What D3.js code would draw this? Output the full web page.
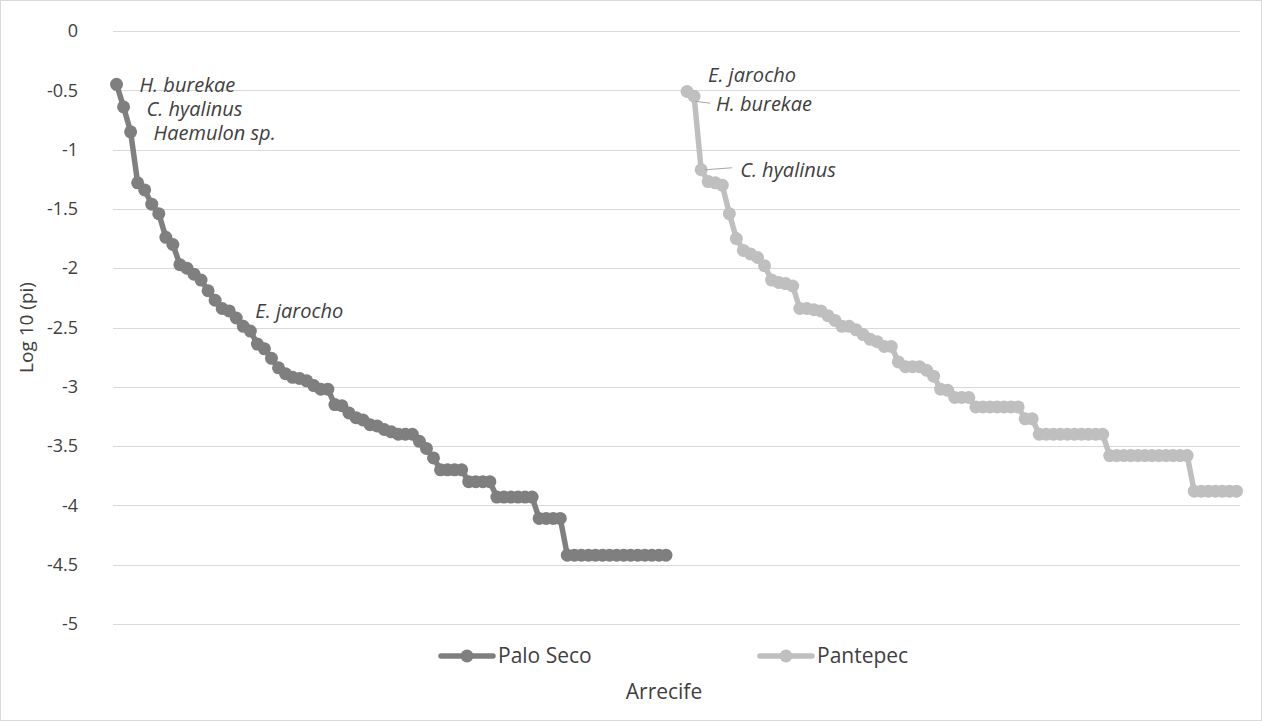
<!DOCTYPE html>
<html>
<head>
<meta charset="utf-8">
<script src="https://cdn.jsdelivr.net/npm/d3@7"></script>
<style>
  body { margin: 0; background: #fff; }
  text { font-family: "Open Sans", Lato, sans-serif; fill: #404040; }
</style>
</head>
<body>
<script>
// series values (log10 pi)
var paloSeco = [-0.45, -0.64, -0.85, -1.28, -1.34, -1.46, -1.54, -1.74, -1.80, -1.97,
  -2.00, -2.05, -2.10, -2.19, -2.27, -2.34, -2.36, -2.42, -2.49, -2.53,
  -2.64, -2.68, -2.76, -2.84, -2.89, -2.92, -2.93, -2.95, -2.99, -3.02,
  -3.02, -3.15, -3.16, -3.22, -3.26, -3.28, -3.32, -3.33, -3.36, -3.38,
  -3.40, -3.40, -3.40, -3.46, -3.52, -3.60, -3.70, -3.70, -3.70, -3.70,
  -3.80, -3.80, -3.80, -3.80, -3.93, -3.93, -3.93, -3.93, -3.93, -3.93,
  -4.11, -4.11, -4.11, -4.11, -4.42, -4.42, -4.42, -4.42, -4.42, -4.42,
  -4.42, -4.42, -4.42, -4.42, -4.42, -4.42, -4.42, -4.42, -4.42];

var pantepec = [-0.51, -0.55, -1.17, -1.27, -1.28, -1.30, -1.54, -1.75, -1.85, -1.88,
  -1.91, -1.98, -2.10, -2.12, -2.13, -2.15, -2.34, -2.34, -2.35, -2.36,
  -2.40, -2.44, -2.49, -2.49, -2.52, -2.56, -2.60, -2.62, -2.66, -2.66,
  -2.79, -2.83, -2.83, -2.83, -2.86, -2.91, -3.02, -3.03, -3.09, -3.09,
  -3.09, -3.17, -3.17, -3.17, -3.17, -3.17, -3.17, -3.17, -3.27, -3.27,
  -3.40, -3.40, -3.40, -3.40, -3.40, -3.40, -3.40, -3.40, -3.40, -3.40,
  -3.58, -3.58, -3.58, -3.58, -3.58, -3.58, -3.58, -3.58, -3.58, -3.58,
  -3.58, -3.58, -3.88, -3.88, -3.88, -3.88, -3.88, -3.88, -3.88];

var gap = 2; // empty categories between the two reefs
var yTicks = [0, -0.5, -1, -1.5, -2, -2.5, -3, -3.5, -4, -4.5, -5];
var seriesNames = ["Palo Seco", "Pantepec"];

// species labels: [point index, text]
var paloLabels = [[0, "H. burekae"], [1, "C. hyalinus"], [2, "Haemulon sp."], [19, "E. jarocho"]];
var pantepecLabels = [[0, "E. jarocho"], [1, "H. burekae"], [2, "C. hyalinus"]];

var width = 1262, height = 721;
var plotL = 113, plotR = 1240, plotT = 31, plotB = 624;
var colors = ["#7f7f7f", "#bfbfbf"];

var nCat = paloSeco.length + gap + pantepec.length;
var cats = d3.range(nCat);

// one long row per series, nulls where the other reef sits
var rows = [
  cats.map(function(i) { return i < paloSeco.length ? paloSeco[i] : null; }),
  cats.map(function(i) {
    var j = i - paloSeco.length - gap;
    return j >= 0 ? pantepec[j] : null;
  })
];

var svg = d3.select("body").append("svg")
    .attr("width", width)
    .attr("height", height);

svg.append("rect")
    .attr("x", 0.5).attr("y", 0.5)
    .attr("width", width - 1).attr("height", height - 1)
    .attr("fill", "#fff")
    .attr("stroke", "#d9d9d9");

var x = d3.scalePoint().domain(cats).range([plotL, plotR]).padding(0.5);
var y = d3.scaleLinear().domain([-5, 0]).range([plotB, plotT]);

// gridlines
svg.append("g").selectAll("line")
    .data(yTicks)
    .enter().append("line")
    .attr("x1", plotL).attr("x2", plotR)
    .attr("y1", function(d) { return Math.round(y(d)) + 0.5; })
    .attr("y2", function(d) { return Math.round(y(d)) + 0.5; })
    .attr("stroke", "#d9d9d9")
    .attr("stroke-width", 1);

// y axis labels
var yAxis = svg.append("g")
    .attr("transform", "translate(78,0)")
    .call(d3.axisLeft(y).tickValues(yTicks).tickSize(0).tickPadding(0)
      .tickFormat(function(d) { return d; }));
yAxis.select(".domain").remove();
yAxis.selectAll("text")
    .style("font-family", "'Open Sans', sans-serif")
    .style("font-size", "18px")
    .attr("fill", "#595959");

var line = d3.line()
    .defined(function(d) { return d != null; })
    .x(function(d, i) { return x(i); })
    .y(function(d) { return y(d); });

rows.forEach(function(row, k) {
  svg.append("path")
      .datum(row)
      .attr("fill", "none")
      .attr("stroke", colors[k])
      .attr("stroke-width", 5.5)
      .attr("stroke-linejoin", "round")
      .attr("stroke-linecap", "round")
      .attr("d", line);

  svg.append("g").selectAll("circle")
      .data(row.map(function(v, i) { return [i, v]; }).filter(function(d) { return d[1] != null; }))
      .enter().append("circle")
      .attr("cx", function(d) { return x(d[0]); })
      .attr("cy", function(d) { return y(d[1]); })
      .attr("r", 6.5)
      .attr("fill", colors[k]);
});

// species labels, offsets from their point
var offsets = {
  "Palo Seco": [[23, 1], [23, 2], [23, 1], [5, -20]],
  "Pantepec": [[21, -16], [22, 8], [39, 0]]
};
var leaders = { "Pantepec": [null, [[1, 5], [16, 7]], [[4, 0], [31, -2]]] };

function drawLabels(list, start, name) {
  list.forEach(function(lb, n) {
    var px = x(start + lb[0]);
    var py = y(name == "Palo Seco" ? paloSeco[lb[0]] : pantepec[lb[0]]);
    var off = offsets[name][n];
    var ld = leaders[name] && leaders[name][n];
    if (ld) {
      svg.append("line")
          .attr("x1", px + ld[0][0]).attr("y1", py + ld[0][1])
          .attr("x2", px + ld[1][0]).attr("y2", py + ld[1][1])
          .attr("stroke", "#a6a6a6").attr("stroke-width", 1);
    }
    svg.append("text")
        .attr("x", px + off[0])
        .attr("y", py + off[1])
        .attr("dy", "0.35em")
        .style("font-size", "20px")
        .style("font-style", "italic")
        .text(lb[1]);
  });
}
drawLabels(paloLabels, 0, "Palo Seco");
drawLabels(pantepecLabels, paloSeco.length + gap, "Pantepec");

// axis titles
svg.append("text")
    .attr("transform", "translate(33," + ((plotT + plotB) / 2) + ") rotate(-90)")
    .attr("text-anchor", "middle")
    .style("font-size", "19px")
    .text("Log 10 (pi)");

svg.append("text")
    .attr("x", 664)
    .attr("y", 692)
    .attr("dy", "0.35em")
    .attr("text-anchor", "middle")
    .style("font-size", "21px")
    .text("Arrecife");

// legend
var legendX = [441, 760];
seriesNames.forEach(function(name, k) {
  var g = svg.append("g").attr("transform", "translate(" + legendX[k] + ",656)");
  g.append("line")
      .attr("x1", 0).attr("x2", 52)
      .attr("stroke", colors[k]).attr("stroke-width", 5.5)
      .attr("stroke-linecap", "round");
  g.append("circle").attr("cx", 26).attr("r", 6.5).attr("fill", colors[k]);
  g.append("text")
      .attr("x", 57).attr("dy", "0.35em")
      .style("font-size", "21px")
      .text(name);
});
</script>
</body>
</html>
